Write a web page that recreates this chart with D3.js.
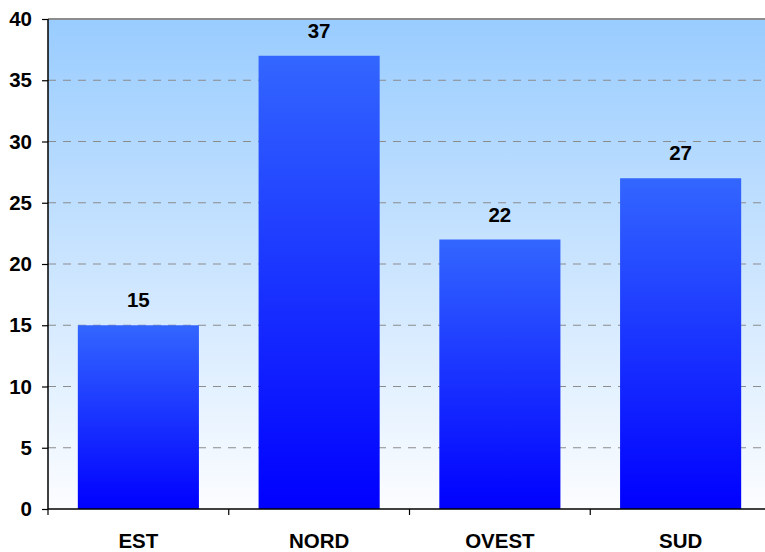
<!DOCTYPE html>
<html><head><meta charset="utf-8">
<script src="https://cdn.jsdelivr.net/npm/d3@7"></script>
<style>body{margin:0;background:#fff}svg{display:block}</style>
</head><body>
<script>
const categories = ["EST","NORD","OVEST","SUD"];
const values = [15,37,22,27];
const yTicks = [0,5,10,15,20,25,30,35,40];

const W=765,H=552;
const FS=20.5;
const m={left:48,top:19,right:-6,bottom:43};
const svg=d3.select("body").append("svg").attr("width",W).attr("height",H);
const defs=svg.append("defs");
const bg=defs.append("linearGradient").attr("id","bg").attr("x1",0).attr("y1",0).attr("x2",0).attr("y2",1);
bg.append("stop").attr("offset","0%").attr("stop-color","#99CCFF");
bg.append("stop").attr("offset","100%").attr("stop-color","#FCFDFF");
const bar=defs.append("linearGradient").attr("id","bar").attr("x1",0).attr("y1",0).attr("x2",0).attr("y2",1);
bar.append("stop").attr("offset","0%").attr("stop-color","#3366FF");
bar.append("stop").attr("offset","100%").attr("stop-color","#0000FF");

const x0=m.left, x1=W-m.right, y0=H-m.bottom, y1=m.top;
const x=d3.scaleBand().domain(categories).range([x0,x1]).paddingInner(0.33).paddingOuter(0.165);
const xb=d3.scaleBand().domain(categories).range([x0,x1]);
const y=d3.scaleLinear().domain([0,40]).range([y0,y1]);
const font="Liberation Sans, Arial, sans-serif";

svg.append("rect").attr("x",x0).attr("y",y1).attr("width",x1-x0).attr("height",y0-y1).attr("fill","url(#bg)");

// grid
svg.append("g").selectAll("line").data(yTicks.filter(d=>d>0&&d<40)).join("line")
  .attr("x1",x0).attr("x2",x1).attr("y1",d=>y(d)).attr("y2",d=>y(d))
  .attr("stroke","#8c8c8c").attr("stroke-width",1.2).attr("stroke-dasharray","8,7");
svg.append("line").attr("x1",x0).attr("x2",x1).attr("y1",y(40)).attr("y2",y(40))
  .attr("stroke","#8c8c8c").attr("stroke-width",2);

// bars
svg.append("g").selectAll("rect").data(values).join("rect")
  .attr("x",(d,i)=>x(categories[i])).attr("width",x.bandwidth())
  .attr("y",d=>y(d)).attr("height",d=>y0-y(d)).attr("fill","url(#bar)");

// value labels
svg.append("g").selectAll("text").data(values).join("text")
  .attr("x",(d,i)=>x(categories[i])+x.bandwidth()/2).attr("y",d=>y(d)-18)
  .attr("text-anchor","middle").attr("font-family",font)
  .attr("font-weight","bold").attr("font-size",FS).attr("fill","#000").text(d=>d);

// y axis
const ya=svg.append("g").attr("transform",`translate(${x0},0)`)
  .call(d3.axisLeft(y).tickValues(yTicks).tickSize(6).tickPadding(10).tickFormat(d3.format("d")));
ya.select(".domain").attr("stroke","#000").attr("stroke-width",1.5).attr("d",`M0,${y0}V${y1}`);
ya.selectAll(".tick line").attr("stroke","#000").attr("stroke-width",1.2);
ya.selectAll("text").attr("font-family",font).attr("font-weight","bold").attr("font-size",FS).attr("fill","#000");

// x axis
const xa=svg.append("g").attr("transform",`translate(0,${y0})`)
  .call(d3.axisBottom(xb).tickSize(0).tickPadding(24));
xa.select(".domain").attr("stroke","#000").attr("stroke-width",1.5).attr("d",`M${x0},0H${x1}`);
xa.selectAll("text").attr("font-family",font).attr("font-weight","bold").attr("font-size",FS).attr("fill","#000");
// boundary ticks
svg.append("g").selectAll("line").data(categories).join("line")
  .attr("x1",d=>xb(d)).attr("x2",d=>xb(d)).attr("y1",y0).attr("y2",y0+6)
  .attr("stroke","#000").attr("stroke-width",1.2);
</script>
</body></html>
